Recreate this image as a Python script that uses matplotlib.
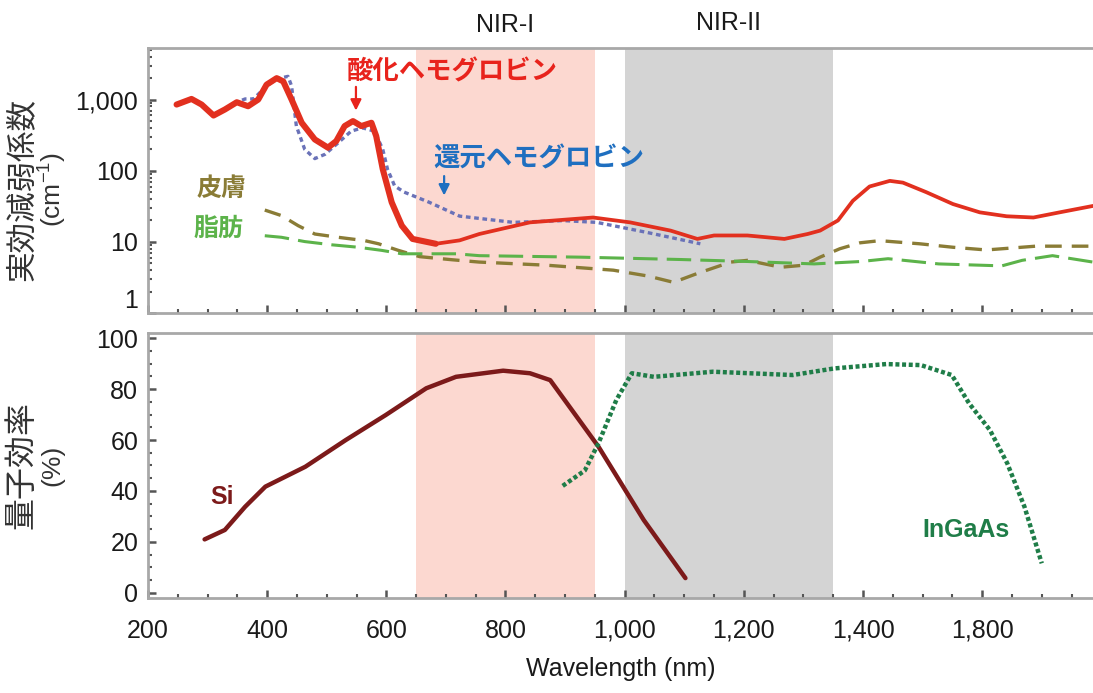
import matplotlib.pyplot as plt
from matplotlib.ticker import MultipleLocator, LogLocator, NullFormatter

# Fonts: Latin text first, Japanese glyphs fall back to Noto CJK
plt.rcParams['font.family'] = ['Liberation Sans', 'Noto Sans CJK JP', 'DejaVu Sans']
plt.rcParams['mathtext.default'] = 'regular'
jp = ['Noto Sans CJK JP', 'DejaVu Sans']

# Wavelength bands (nm)
nir1 = (650, 950)
nir2 = (1000, 1350)

# Oxygenated hemoglobin (cm-1)
oxy_nm = [248, 273, 290, 310, 329, 349, 368, 385, 399, 416, 427, 441, 458, 480, 502, 516,
          530, 544, 558, 575, 583, 594, 609, 626, 644, 683, 723, 756, 841, 947, 1009, 1077,
          1122, 1150, 1206, 1268, 1307, 1328, 1358, 1383, 1411, 1445, 1467, 1506, 1551, 1596,
          1641, 1686, 1730, 1786]
oxy_val = [851, 1020, 851, 597, 725, 917, 806, 1000, 1620, 2000, 1800, 1000, 472, 275, 211, 261,
           424, 498, 424, 472, 307, 105, 36, 16.9, 11, 9.4, 10.5, 12.9, 18.8, 22, 18.8, 14.4,
           11, 12.3, 12.3, 11, 12.9, 14.4, 20, 37.8, 60, 72, 68, 50, 34, 26,
           22.9, 22, 26, 32]

# Deoxygenated hemoglobin (cm-1)
deoxy_nm = [250, 273, 290, 310, 329, 349, 363, 377, 399, 416, 435, 441, 449, 463, 480, 497,
            519, 541, 560, 580, 594, 602, 614, 630, 672, 723, 813, 897, 953, 1037, 1127]
deoxy_val = [851, 1020, 851, 597, 725, 917, 1020, 1020, 1550, 1950, 2120, 1550, 424, 200, 148, 170,
             246, 360, 400, 360, 200, 105, 61, 50, 36, 23, 18.8, 19.9, 18.8, 13.6, 9.4]

# Skin (cm-1)
skin_nm = [396, 424, 452, 480, 519, 564, 587, 620, 656, 711, 756, 869, 981, 1040, 1082, 1122,
           1178, 1206, 1262, 1301, 1328, 1361, 1395, 1428, 1495, 1551, 1607, 1690, 1786]
skin_val = [28, 23.4, 16.9, 12.9, 11.6, 10.4, 9.4, 7.6, 6.2, 5.6, 5.2, 4.7, 4, 3.3, 2.7, 3.6,
            5.2, 5.5, 4.4, 4.7, 6.1, 8, 9.7, 10.4, 9.4, 8.4, 7.7, 8.7, 8.7]

# Fat (cm-1)
fat_nm = [396, 424, 463, 508, 553, 592, 626, 717, 756, 925, 1094, 1206, 1318, 1397, 1442, 1527,
          1633, 1667, 1718, 1786]
fat_val = [12.2, 11.6, 10.1, 9.1, 8.4, 7.6, 6.8, 6.8, 6.4, 6.1, 5.65, 5.3, 4.9, 5.3, 5.8, 4.9,
           4.6, 5.5, 6.4, 5.2]

# Quantum efficiency (%)
si_nm = [295, 329, 363, 397, 464, 532, 599, 667, 717, 796, 841, 875, 956, 1032, 1102]
si_val = [21, 24.7, 33.8, 41.7, 49.5, 60, 69.8, 80.3, 84.8, 87.2, 86.2, 83.5, 57.4, 28.6, 5.8]

ingaas_nm = [896, 933, 956, 986, 1012, 1049, 1148, 1282, 1352, 1439, 1497, 1549, 1578, 1613,
             1642, 1671, 1700]
ingaas_val = [42, 48, 58.7, 75.7, 86.2, 84.8, 86.8, 85.5, 88.1, 89.8, 89.4, 85.5, 74.4, 63.9,
              50.9, 33.8, 11.6]

# Axis ticks (the last label is printed as in the source figure)
x_ticks = [200, 400, 600, 800, 1000, 1200, 1400, 1600]
x_labels = ['200', '400', '600', '800', '1,000', '1,200', '1,400', '1,800']
top_ticks = [1, 10, 100, 1000]
top_labels = ['1', '10', '100', '1,000']
qe_ticks = [0, 20, 40, 60, 80, 100]

spine_col = '#a8a8a8'
tick_col = '#555555'

fig = plt.figure(figsize=(10.93, 6.93), dpi=100)
ax1 = fig.add_axes([0.1354, 0.5483, 0.8646, 0.3824])
ax2 = fig.add_axes([0.1354, 0.1371, 0.8646, 0.3824])

for ax in (ax1, ax2):
    ax.axvspan(*nir1, color='#fcd8d0', lw=0, zorder=0)
    ax.axvspan(*nir2, color='#d4d4d4', lw=0, zorder=0)
    ax.set_xlim(200, 1786)
    ax.spines['right'].set_visible(False)
    for s in ('left', 'bottom', 'top'):
        ax.spines[s].set_color(spine_col)
        ax.spines[s].set_linewidth(2)
    ax.xaxis.set_minor_locator(MultipleLocator(50))
    ax.tick_params(which='both', direction='in', color=tick_col, labelsize=18,
                   labelcolor='#1a1a1a', top=False, right=False)
    ax.tick_params(which='major', length=6, width=1.8)
    ax.tick_params(which='minor', length=3, width=1.5)
    ax.tick_params(axis='y', which='major', pad=7)
    ax.tick_params(axis='x', which='major', pad=15)

# Top panel: effective attenuation coefficient
ax1.set_yscale('log')
ax1.set_ylim(1.05, 5300)
ax1.plot(deoxy_nm, deoxy_val, color='#6a72b8', lw=2.4, ls=(0, (1.4, 1.1)), zorder=3)
ax1.plot(skin_nm, skin_val, color='#8a7c36', lw=2.4, ls=(0, (5, 3)), zorder=3)
ax1.plot(fat_nm, fat_val, color='#5cb34a', lw=2.2, ls=(0, (8, 3)), zorder=3)
# oxy-Hb is drawn thick in the visible range and thinner beyond
n_thick = sum(1 for w in oxy_nm if w <= 683)
ax1.plot(oxy_nm[:n_thick], oxy_val[:n_thick], color='#e2301f', lw=4.4, zorder=4,
         solid_capstyle='round', solid_joinstyle='round')
ax1.plot(oxy_nm[n_thick - 1:], oxy_val[n_thick - 1:], color='#e2301f', lw=2.7, zorder=4,
         solid_capstyle='round', solid_joinstyle='round')
ax1.set_xticks(x_ticks, labels=[])
ax1.set_yticks(top_ticks, labels=top_labels)
ax1.yaxis.set_minor_locator(LogLocator(base=10, subs=range(2, 10)))
ax1.yaxis.set_minor_formatter(NullFormatter())
for lab in ax1.get_yticklabels():
    if lab.get_text() == '1':
        lab.set_verticalalignment('bottom')

ax1.text(710, 2450, '酸化ヘモグロビン', color='#e8231c', fontsize=19, fontweight='bold',
         family=jp, ha='center', va='center')
ax1.annotate('', xy=(549, 640), xytext=(549, 1650),
             arrowprops=dict(arrowstyle='-|>', color='#e8231c', lw=1.6, mutation_scale=16))
ax1.text(856, 145, '還元ヘモグロビン', color='#1f6fc0', fontsize=19, fontweight='bold',
         family=jp, ha='center', va='center')
ax1.annotate('', xy=(697, 41), xytext=(697, 92),
             arrowprops=dict(arrowstyle='-|>', color='#1f6fc0', lw=1.6, mutation_scale=16))
ax1.text(324, 55, '皮膚', color='#8a7c36', fontsize=18, fontweight='bold', family=jp,
         ha='center', va='center')
ax1.text(319, 15.2, '脂肪', color='#5cb34a', fontsize=18, fontweight='bold', family=jp,
         ha='center', va='center')

# NIR band names above the top panel
ax1.text(800, 1.085, 'NIR-I', transform=ax1.get_xaxis_transform(), fontsize=18,
         ha='center', va='center', color='#1a1a1a')
ax1.text(1175, 1.095, 'NIR-II', transform=ax1.get_xaxis_transform(), fontsize=18,
         ha='center', va='center', color='#1a1a1a')

# Bottom panel: quantum efficiency
ax2.set_ylim(-2, 102)
ax2.plot(si_nm, si_val, color='#7c1a1a', lw=3.2, zorder=3, solid_capstyle='round')
ax2.plot(ingaas_nm, ingaas_val, color='#1f7d48', lw=3.2, ls=(0, (0.9, 0.6)), zorder=3)
ax2.set_xticks(x_ticks, labels=x_labels)
ax2.set_yticks(qe_ticks)
ax2.yaxis.set_minor_locator(MultipleLocator(5))
ax2.text(324, 37.6, 'Si', color='#7c1a1a', fontsize=18, fontweight='bold',
         ha='center', va='center')
ax2.text(1573, 24.7, 'InGaAs', color='#1f7d48', fontsize=18, fontweight='bold',
         ha='center', va='center')
ax2.set_xlabel('Wavelength (nm)', fontsize=18, color='#1a1a1a', labelpad=10)

# Y axis titles (two lines each, rotated)
fig.text(0.020, 0.726, '実効減弱係数', rotation=90, fontsize=22, family=jp,
         ha='center', va='center', color='#333333')
fig.text(0.048, 0.726, '(cm$^{-1}$)', rotation=90, fontsize=19,
         ha='center', va='center', color='#333333')
fig.text(0.020, 0.329, '量子効率', rotation=90, fontsize=23, family=jp,
         ha='center', va='center', color='#333333')
fig.text(0.048, 0.329, '(%)', rotation=90, fontsize=19,
         ha='center', va='center', color='#333333')

fig.savefig('out.png', dpi=100)
plt.close(fig)
